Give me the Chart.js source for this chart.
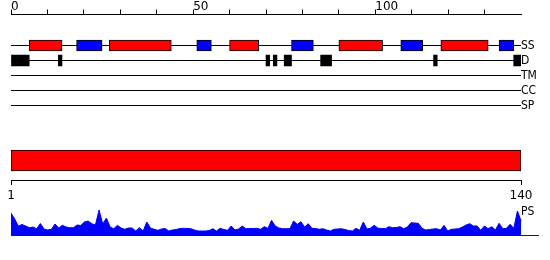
<!DOCTYPE html>
<html>
<head>
<meta charset="utf-8">
<script src="https://cdn.jsdelivr.net/npm/chart.js@4.4.1/dist/chart.umd.min.js"></script>
<style>
html,body{margin:0;padding:0;background:#fff;}
#wrap{position:relative;width:550px;height:260px;overflow:hidden;background:#fff;}
#wrap canvas{position:absolute;left:0;top:0;}
</style>
</head>
<body>
<div id="wrap">
<canvas id="tracks" width="550" height="260"></canvas>
<canvas id="profile" width="550" height="260"></canvas>
</div>
<script>
// ---------------- data ----------------
const topTicks = [0, 10, 20, 30, 40, 50, 60, 70, 80, 90, 100, 110, 120, 130];
const topTickLabels = [0, 50, 100];
const bottomTicks = [1, 140];
const rowNames = ['SS', 'D', 'TM', 'CC', 'SP'];
const profileName = 'PS';

// secondary structure segments (residue start/end), H = helix (red), E = strand (blue)
const ssStart = [6, 19, 28, 52, 61, 78, 91, 108, 119, 135];
const ssEnd   = [14, 25, 44, 55, 68, 83, 102, 113, 131, 138];
const ssType  = ['H', 'E', 'H', 'E', 'H', 'E', 'H', 'E', 'H', 'E'];

// disordered segments
const disStart = [1, 14, 71, 73, 76, 86, 117, 139];
const disEnd   = [5, 14, 71, 73, 77, 88, 117, 140];

// domain bar
const domainStart = [1];
const domainEnd   = [140];

// PS profile, one value per residue 1..140
const psScores = [
  22, 16, 9, 10.5, 9, 7.3, 8, 6.3, 11.5, 6,
  5, 5.7, 11, 7, 9.7, 8, 7.3, 7.3, 10, 9.5,
  13, 14, 11.3, 10, 25, 11, 17, 8, 6.3, 9.7,
  7, 5.7, 7, 7, 4, 7.3, 4, 13, 7, 5.7,
  4.7, 6, 6.5, 4, 5, 5.5, 6.5, 6.7, 6.5, 6.3,
  5, 4, 4, 4, 4.5, 6.3, 4, 6.7, 5.5, 4.7,
  9, 5, 6, 9, 6.3, 6.5, 6.5, 6.7, 5.7, 8.3,
  6.7, 14.7, 9, 7, 6.3, 6.3, 6.3, 14, 10.7, 13.3,
  8, 11.3, 6.7, 6.5, 5.7, 6.3, 5, 4, 5.7, 6,
  6.3, 5.5, 4.5, 4, 6.7, 4.7, 13, 6, 7, 9.7,
  6.7, 6.5, 6.3, 8.3, 7.3, 7.5, 8.3, 6.3, 8, 12.3,
  12, 11.7, 6.7, 5, 5.5, 6, 6.3, 5, 9.7, 4,
  5.7, 6, 6.3, 8, 10, 11.3, 9, 9, 4.7, 9,
  6.3, 8.3, 5, 11.7, 6.3, 6.7, 10.7, 6.7, 24, 14
];

// ---------------- layout (row positions on the track axis) ----------------
const ROW_POS = [1, 2, 3, 4, 5];
const DOMAIN_POS = 8.6667;
const PROFILE_LABEL_POS = 12.0667;

const COLORS = { H: '#ff0000', E: '#0000ff' };
const FONT = "'DejaVu Sans', sans-serif";
const LABEL_FONT = "'DejaVu Sans Condensed', 'DejaVu Sans', sans-serif";

Chart.defaults.font.family = FONT;
Chart.defaults.font.size = 12;
Chart.defaults.color = '#000';

const yTickValues = ROW_POS.concat([PROFILE_LABEL_POS]);
const yTickText = rowNames.concat([profileName]);

new Chart(document.getElementById('tracks'), {
  type: 'bar',
  data: {
    datasets: [
      {
        label: 'SS',
        xAxisID: 'x', yAxisID: 'y',
        data: ssStart.map((s, i) => ({ x: [s - 1, ssEnd[i]], y: ROW_POS[0] })),
        backgroundColor: ssType.map(t => COLORS[t]),
        borderColor: '#000', borderWidth: 1, borderSkipped: false,
        barThickness: 11, grouped: false
      },
      {
        label: 'D',
        xAxisID: 'x', yAxisID: 'y',
        data: disStart.map((s, i) => ({ x: [s - 1, disEnd[i]], y: ROW_POS[1] })),
        backgroundColor: '#000', borderWidth: 0,
        barThickness: 11, grouped: false
      },
      {
        label: 'domain',
        xAxisID: 'x2', yAxisID: 'y',
        data: domainStart.map((s, i) => ({ x: [s, domainEnd[i]], y: DOMAIN_POS })),
        backgroundColor: '#ff0000', borderColor: '#000', borderWidth: 1, borderSkipped: false,
        barThickness: 21, grouped: false
      }
    ]
  },
  options: {
    indexAxis: 'y',
    responsive: false, animation: false, devicePixelRatio: 1,
    layout: { padding: { left: 11, right: 0, top: 0, bottom: 55 } },
    plugins: { legend: { display: false }, tooltip: { enabled: false } },
    scales: {
      x: {
        type: 'linear', position: 'top', min: 0, max: 140, offset: false,
        afterBuildTicks: s => { s.ticks = topTicks.map(v => ({ value: v })); },
        afterFit: s => { s.height = 14.5; },
        ticks: {
          callback: v => topTickLabels.includes(v) ? String(v) : '',
          align: 'start', padding: -3.5, maxRotation: 0, autoSkip: false,
          font: { size: 12, lineHeight: 1 }
        },
        grid: { drawOnChartArea: false, drawTicks: true, tickLength: 5, color: '#000', offset: false },
        border: { color: '#000', width: 1 }
      },
      x2: {
        type: 'linear', position: 'bottom', min: 1, max: 140, offset: false,
        afterBuildTicks: s => { s.ticks = bottomTicks.map(v => ({ value: v })); },
        afterFit: s => { s.height = 25; },
        ticks: { padding: 5, maxRotation: 0, autoSkip: false, font: { size: 12, lineHeight: 1 } },
        grid: { drawOnChartArea: false, drawTicks: true, tickLength: 5, color: '#000', offset: false },
        border: { color: '#000', width: 1 }
      },
      y: {
        type: 'linear', position: 'right', reverse: true,
        min: -16 / 15, max: 149.5 / 15, offset: false,
        afterBuildTicks: s => { s.ticks = yTickValues.map(v => ({ value: v })); },
        afterFit: s => { s.width = 29; },
        ticks: {
          callback: (v, i) => yTickText[i],
          padding: 0, autoSkip: false,
          font: { family: LABEL_FONT, size: 12 }
        },
        grid: {
          offset: false, drawTicks: false, lineWidth: 1,
          color: ctx => (ctx.index === yTickValues.length - 1) ? 'rgba(0,0,0,0)' : '#000'
        },
        border: { display: false }
      }
    }
  }
});

new Chart(document.getElementById('profile'), {
  type: 'line',
  data: {
    datasets: [{
      label: profileName,
      data: psScores.map((v, i) => ({ x: i + 1, y: v })),
      borderColor: '#0000ff', backgroundColor: '#0000ff',
      borderWidth: 1, pointRadius: 0, fill: 'origin', tension: 0
    }]
  },
  options: {
    responsive: false, animation: false, devicePixelRatio: 1,
    layout: { padding: { left: 11, right: 12, top: 205, bottom: 25 } },
    plugins: { legend: { display: false }, tooltip: { enabled: false } },
    scales: {
      x: {
        type: 'linear', min: 1, max: 144.6,
        afterFit: s => { s.height = 0; },
        ticks: { display: false },
        grid: { display: false },
        border: { display: true, color: '#0000ff', width: 1 }
      },
      y: { display: false, min: 0, max: 30 }
    }
  }
});
</script>
</body>
</html>
